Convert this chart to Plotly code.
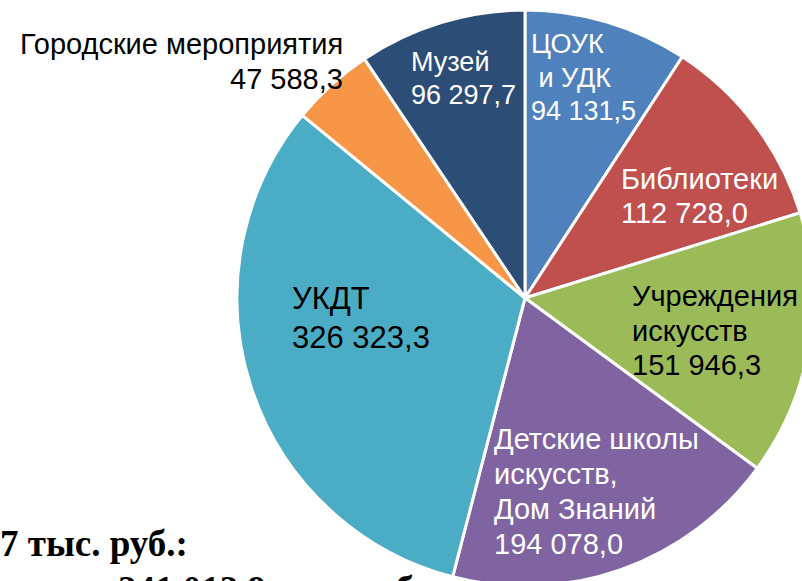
import plotly.graph_objects as go

# ---- data ----
categories = [
    "ЦОУК\n\u00a0и УДК",
    "Библиотеки",
    "Учреждения\nискусств",
    "Детские школы\nискусств,\nДом Знаний",
    "УКДТ",
    "Городские мероприятия",
    "Музей",
]
values = [94131.5, 112728.0, 151946.3, 194078.0, 326323.3, 47588.3, 96297.7]
colors = ["#4F81BD", "#C0504D", "#9BBB59", "#8064A2", "#4BACC6", "#F79646", "#2C4D75"]
text_colors = ["white", "white", "black", "white", "black", "black", "white"]
footer_line1 = "7 тыс. руб.:"
footer_line2 = "241 012,9 тыс. руб."

# ---- layout (pixel geometry) ----
W, H = 840, 620
cx, cy, r = 525, 298, 288
# label placement: (x, first-line middle y, line spacing, font size, xanchor)
label_pos = [
    (529, 44, 33.5, 27, "left"),
    (619, 179, 34, 29, "left"),
    (630, 296, 34.5, 29, "left"),
    (492, 439, 35, 29, "left"),
    (290, 298, 39, 31, "left"),
    (345, 44, 35, 29, "right"),
    (409, 62, 33, 27, "left"),
]


def fmt(v):
    return f"{v:,.1f}".replace(",", " ").replace(".", ",")


fig = go.Figure()
fig.add_trace(go.Pie(
    values=values,
    labels=[c.replace("\n", " ") for c in categories],
    sort=False,
    direction="clockwise",
    rotation=0,
    textinfo="none",
    hoverinfo="skip",
    marker=dict(colors=colors, line=dict(color="white", width=3)),
    domain=dict(x=[(cx - r) / W, (cx + r) / W], y=[1 - (cy + r) / H, 1 - (cy - r) / H]),
    showlegend=False,
))

annotations = []
for name, val, col, (x, y0, sp, fs, xa) in zip(categories, values, text_colors, label_pos):
    lines = name.split("\n") + [fmt(val)]
    for i, ln in enumerate(lines):
        annotations.append(dict(
            x=x, y=y0 + i * sp, xref="x", yref="y", text=ln, showarrow=False,
            xanchor=xa, yanchor="middle",
            font=dict(family="Liberation Sans, Arial", size=fs, color=col),
        ))

annotations.append(dict(
    x=0, y=543, xref="x", yref="y", xshift=-2, text="<b>" + footer_line1 + "</b>", showarrow=False,
    xanchor="left", yanchor="middle",
    font=dict(family="Liberation Serif, Times New Roman", size=37, color="black"),
))
annotations.append(dict(
    x=116, y=589, xref="x", yref="y", text="<b>" + footer_line2 + "</b>", showarrow=False,
    xanchor="left", yanchor="middle",
    font=dict(family="Liberation Serif, Times New Roman", size=37, color="black"),
))

fig.update_layout(
    width=W, height=H,
    margin=dict(l=0, r=0, t=0, b=0),
    paper_bgcolor="white", plot_bgcolor="rgba(0,0,0,0)",
    xaxis=dict(range=[0, W], visible=False, fixedrange=True),
    yaxis=dict(range=[H, 0], visible=False, fixedrange=True),
    annotations=annotations,
    showlegend=False,
)

fig.write_html(
    "out.html",
    config={"displayModeBar": False},
    post_script="document.body.style.margin='0';document.body.style.overflow='hidden';",
)
